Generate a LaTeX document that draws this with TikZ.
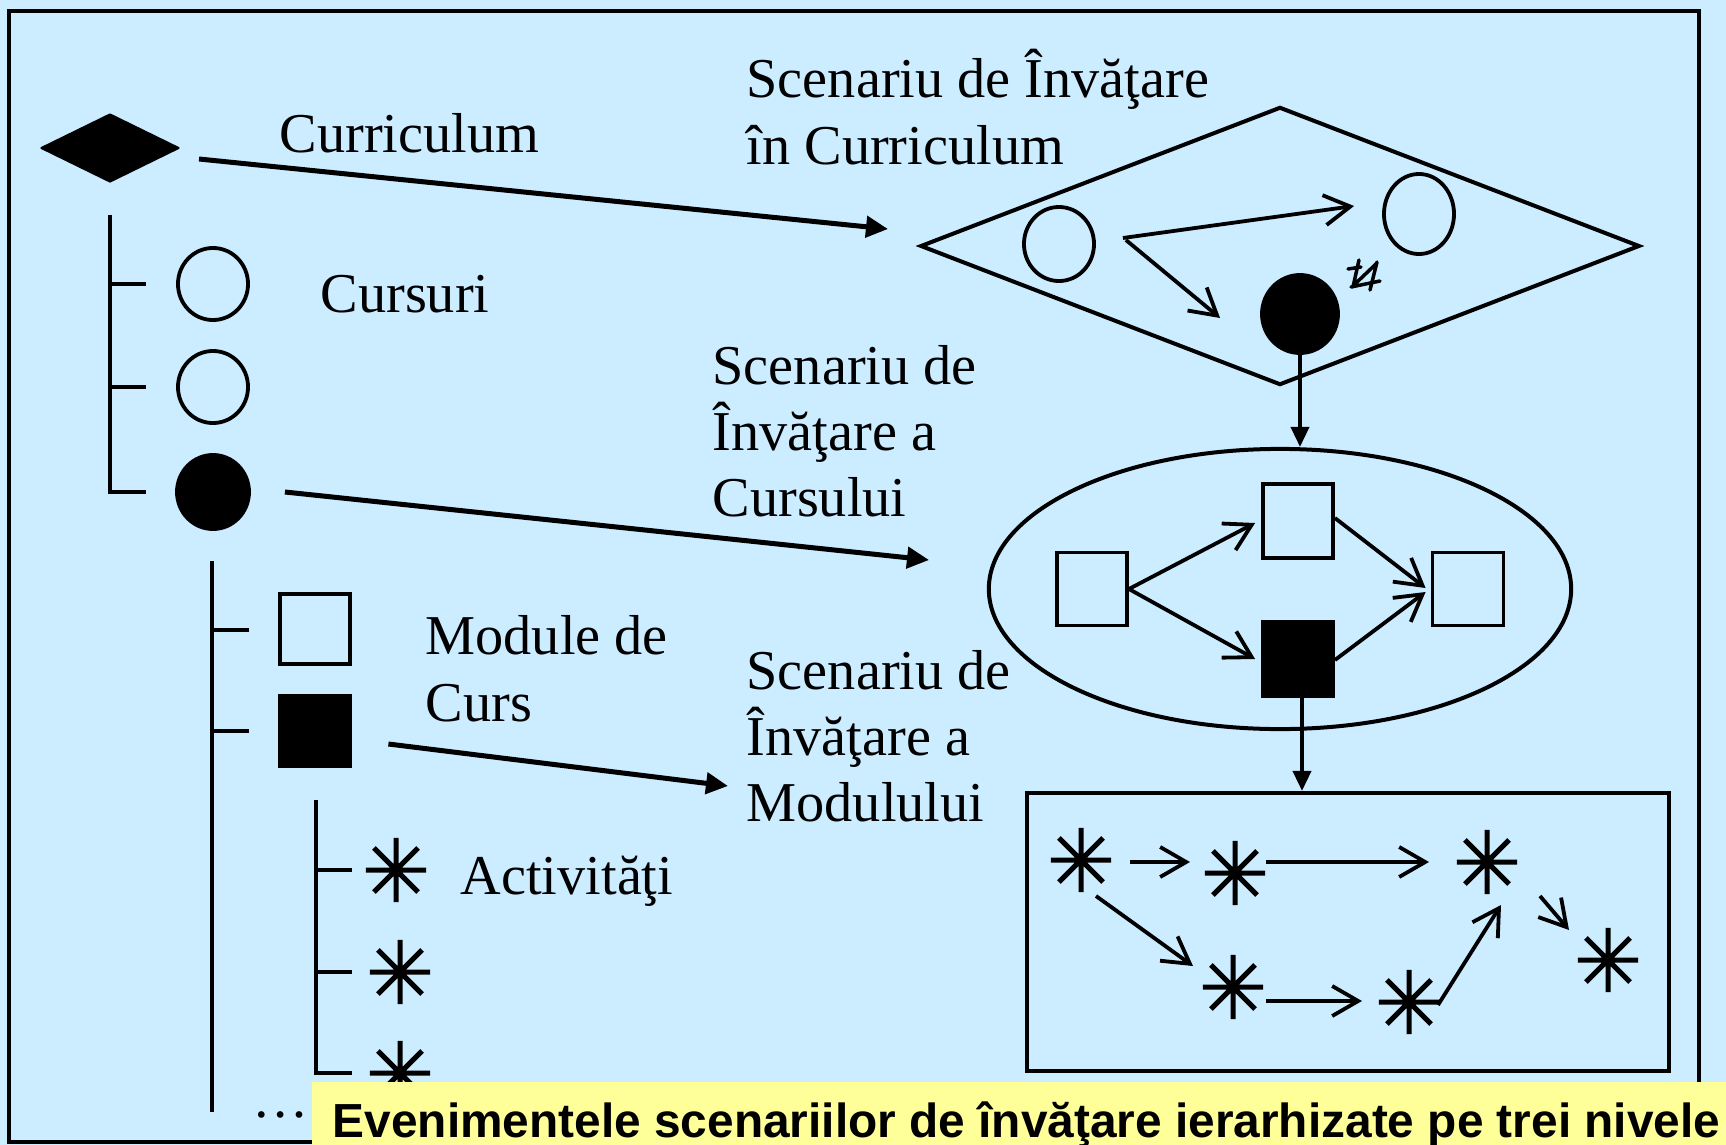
\documentclass[tikz,border=0pt]{standalone}
\usepackage{fontspec}
\setmainfont{Liberation Serif}
\newfontfamily\capfont{Liberation Sans}
\usetikzlibrary{shapes.geometric,arrows.meta,calc}
\definecolor{bgblue}{HTML}{CCECFF}
\definecolor{capyellow}{HTML}{FFFF99}
\tikzset{
  lbl/.style={font=\fontsize{16}{19}\selectfont, inner sep=0pt, anchor=base west},
  tree/.style={line width=0.035cm},
  bigarrow/.style={line width=0.05cm, -{Triangle[length=0.22cm,width=0.21cm]}},
  downarrow/.style={line width=0.038cm, -{Triangle[length=0.2cm,width=0.18cm]}},
  barb/.style={line width=0.038cm, -{Straight Barb[length=0.26cm,width=0.3cm]}},
  oval/.style={ellipse, draw, line width=0.038cm, inner sep=0pt},
  sqbox/.style={rectangle, draw, line width=0.038cm, inner sep=0pt},
  ast/.style={circle, inner sep=0pt, minimum size=0.70cm,
    path picture={\draw[line width=0.05cm] (path picture bounding box.center)
      +(0,0.32cm) -- +(0,-0.32cm) +(0.30cm,0) -- +(-0.30cm,0)
      +(0.22cm,0.22cm) -- +(-0.22cm,-0.22cm) +(-0.22cm,0.22cm) -- +(0.22cm,-0.22cm);}}
}
\begin{document}
\begin{tikzpicture}[x=0.01cm,y=-0.01cm]
\useasboundingbox (0,0) rectangle (1726,1145);
\fill[bgblue] (0,0) rectangle (1726,1145);
\draw[line width=0.04cm] (9,11) rectangle (1699,1142);

% ---------- left hierarchy ----------
\node[diamond, fill=black, draw, line join=round, line width=0.02cm, minimum width=1.38cm, minimum height=0.68cm, inner sep=0pt] (cur) at (110,148) {};
\node[lbl] (tcur) at (279,152) {Curriculum};

\draw[tree] (110,215) -- (110,492) -- (146,492);
\draw[tree] (110,284) -- (146,284);
\draw[tree] (110,387) -- (146,387);
\node[oval, minimum width=0.70cm, minimum height=0.72cm] (c1) at (213,284) {};
\node[oval, minimum width=0.70cm, minimum height=0.72cm] (c2) at (213,387) {};
\node[oval, fill=black, minimum width=0.72cm, minimum height=0.74cm] (c3) at (213,492) {};
\node[lbl] (tcurs) at (320,312) {Cursuri};

\draw[tree] (212,561) -- (212,1112);
\draw[tree] (212,630) -- (249,630);
\draw[tree] (212,731) -- (249,731);
\node[sqbox, minimum width=0.70cm, minimum height=0.70cm] (s1) at (315,629) {};
\node[sqbox, fill=black, minimum width=0.71cm, minimum height=0.71cm] (s2) at (315,731) {};
\node[lbl] (tmod1) at (425,654) {Module de};
\node[lbl] (tmod2) at (425,721) {Curs};

\draw[tree] (316,800) -- (316,1073) -- (352,1073);
\draw[tree] (316,870) -- (352,870);
\draw[tree] (316,972) -- (352,972);
\node[ast] (k1) at (396,870) {};
\node[ast] (k2) at (400,972) {};
\node[ast] (k3) at (400,1073) {};
\node[lbl] (tact) at (460,894) {Activităţi};
\node[font=\fontsize{16}{19}\selectfont, inner sep=0pt, anchor=base] (dots) at (281,1117) {…};

% ---------- labels of the scenarios ----------
\node[lbl] (l1a) at (746,97) {Scenariu de Învăţare};
\node[lbl] (l1b) at (746,164) {în Curriculum};
\node[lbl] (l2a) at (712,384) {Scenariu de};
\node[lbl] (l2b) at (712,450) {Învăţare a};
\node[lbl] (l2c) at (712,516) {Cursului};
\node[lbl] (l3a) at (746,689) {Scenariu de};
\node[lbl] (l3b) at (746,755) {Învăţare a};
\node[lbl] (l3c) at (746,821) {Modulului};

% ---------- curriculum scenario ----------
\node[diamond, draw, line width=0.04cm, minimum width=7.19cm, minimum height=2.78cm, inner sep=0pt] (sd) at (1280,246) {};
\node[oval, minimum width=0.70cm, minimum height=0.74cm] (e1) at (1059,244) {};
\node[oval, minimum width=0.70cm, minimum height=0.80cm] (e2) at (1419,214) {};
\node[oval, fill=black, minimum width=0.76cm, minimum height=0.78cm] (e3) at (1300,314) {};
\draw[barb] ($(e1.east)+(27,-6)$) -- ($(e2.west)+(-28,-8)$);
\draw[barb] ($(e1.east)+(30,-4)$) -- ($(e3.west)+(-40,4)$);
\draw[line width=0.035cm, line cap=round]
  (1348,269) -- (1361,267) (1359,260) -- (1353,287) (1355,284) -- (1377,263)
  (1351,287) -- (1380,281) (1377,262) -- (1370,290);

% ---------- course scenario ----------
\node[oval, line width=0.04cm, minimum width=5.82cm, minimum height=2.80cm] (el) at (1280,589) {};
\node[sqbox, minimum width=0.70cm, minimum height=0.73cm] (q1) at (1092,589) {};
\node[sqbox, minimum width=0.70cm, minimum height=0.74cm] (q2) at (1298,521) {};
\node[sqbox, fill=black, minimum width=0.70cm, minimum height=0.75cm] (q3) at (1298,659) {};
\node[sqbox, minimum width=0.71cm, minimum height=0.73cm] (q4) at (1468,589) {};
\draw[barb] (q1.east) -- ($(q2.west)+(-6,2)$);
\draw[barb] (q1.east) -- ($(q3.west)+(-6,0)$);
\draw[barb] ($(q2.east)+(0,-3)$) -- ($(q4.west)+(-5,-1)$);
\draw[barb] ($(q3.east)+(0,1)$) -- ($(q4.west)+(-5,3)$);

% ---------- module scenario ----------
\node[sqbox, line width=0.04cm, minimum width=6.41cm, minimum height=2.78cm] (rb) at (1348,932) {};
\node[ast] (a1) at (1081,860) {};
\node[ast] (a2) at (1235,873) {};
\node[ast] (a3) at (1487,862) {};
\node[ast] (a4) at (1233,987) {};
\node[ast] (a5) at (1409,1002) {};
\node[ast] (a6) at (1608,960) {};
\draw[barb] ($(a1)+(49,2)$) -- ($(a2)+(-45,-11)$);
\draw[barb] ($(a2)+(31,-11)$) -- ($(a3)+(-58,0)$);
\draw[barb] ($(a1)+(15,36)$) -- ($(a4)+(-40,-21)$);
\draw[barb] ($(a4)+(33,14)$) -- ($(a5)+(-47,-1)$);
\draw[barb] ($(a5)+(29,3)$) -- ($(a3)+(14,43)$);
\draw[barb] ($(a3)+(53,34)$) -- ($(a6)+(-39,-30)$);

% ---------- level connectors ----------
\coordinate (tipA) at (888,229);
\coordinate (tipB) at (929,560);
\coordinate (tipC) at (728,786);
\draw[bigarrow] ($(cur.east)+(19,11)$) -- (tipA);
\draw[bigarrow] ($(c3.east)+(34,0)$) -- (tipB);
\draw[bigarrow] ($(s2.east)+(36,13)$) -- (tipC);
\draw[downarrow] (e3.south) -- (e3.south |- el.north);
\draw[downarrow] ($(q3.south)+(4,0)$) -- ($(q3.south |- rb.north)+(4,0)$);

% ---------- caption ----------
\fill[capyellow] (312,1082) rectangle (1726,1145);
\node[inner sep=0pt, anchor=base west, font=\capfont\bfseries\fontsize{13.6}{16}\selectfont] (cap) at (332,1137)
  {Evenimentele scenariilor de învăţare ierarhizate pe trei nivele};
\end{tikzpicture}
\end{document}
